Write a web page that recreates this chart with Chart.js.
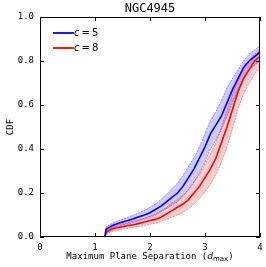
<!DOCTYPE html>
<html><head><meta charset="utf-8">
<script src="https://cdn.jsdelivr.net/npm/chart.js@4"></script>
<style>html,body{margin:0;padding:0;background:#fff}#wrap{width:266px;height:267px}</style>
</head><body><div id="wrap"><canvas id="c" width="266" height="267"></canvas></div>
<script>
const titleText = "NGC4945";
const xTickLabels = ["0","1","2","3","4"];
const yTickLabels = ["0.0","0.2","0.4","0.6","0.8","1.0"];
const seriesNames = ["c = 5","c = 8"];
const sep = [1.18,1.2,1.3,1.4,1.5,1.6,1.7,1.8,1.9,2.0,2.1,2.2,2.3,2.4,2.5,2.6,2.7,2.8,2.9,3.0,3.1,3.2,3.3,3.4,3.5,3.6,3.7,3.8,3.9,4.0];
const c5Median = [0,0.035,0.05,0.06,0.068,0.075,0.083,0.092,0.1,0.11,0.125,0.14,0.16,0.18,0.20,0.23,0.27,0.31,0.36,0.41,0.47,0.51,0.55,0.61,0.67,0.72,0.77,0.80,0.82,0.84];
const c5Upper  = [0,0.045,0.06,0.072,0.082,0.09,0.1,0.11,0.12,0.135,0.15,0.17,0.195,0.22,0.245,0.28,0.32,0.36,0.41,0.47,0.53,0.57,0.62,0.68,0.72,0.76,0.80,0.83,0.85,0.87];
const c5Lower  = [0,0.022,0.038,0.048,0.055,0.06,0.067,0.075,0.082,0.09,0.1,0.115,0.13,0.145,0.16,0.185,0.215,0.25,0.29,0.34,0.4,0.44,0.49,0.55,0.61,0.67,0.72,0.76,0.78,0.80];
const c8Median = [0,0.02,0.035,0.042,0.047,0.052,0.056,0.062,0.068,0.075,0.08,0.09,0.105,0.12,0.135,0.15,0.17,0.20,0.23,0.27,0.31,0.36,0.43,0.50,0.58,0.66,0.72,0.76,0.80,0.82];
const c8Upper  = [0,0.03,0.045,0.055,0.06,0.066,0.072,0.078,0.085,0.095,0.105,0.12,0.135,0.155,0.17,0.19,0.215,0.25,0.285,0.33,0.38,0.43,0.5,0.58,0.65,0.71,0.76,0.80,0.83,0.85];
const c8Lower  = [0,0.01,0.025,0.03,0.035,0.04,0.044,0.048,0.053,0.058,0.063,0.07,0.08,0.09,0.1,0.112,0.128,0.15,0.175,0.205,0.24,0.285,0.34,0.41,0.49,0.58,0.65,0.70,0.74,0.77];

const pts = arr => sep.map((x,i)=>({x:x,y:arr[i]}));
const BLUE='#0000ff', RED='#ff0000';
const MONO='"DejaVu Sans Mono", monospace';

const boxAndTicks = {
  id:'boxTicks',
  afterDatasetsDraw(chart){
    const ctx=chart.ctx, a=chart.chartArea, xs=chart.scales.x, ys=chart.scales.y;
    ctx.save();
    ctx.strokeStyle='#000'; ctx.lineWidth=1;
    ctx.strokeRect(Math.round(a.left)+0.5, Math.round(a.top)+0.5, Math.round(a.right-a.left)-1, Math.round(a.bottom-a.top)-1);
    const L=4;
    ctx.beginPath();
    xs.ticks.forEach(t=>{const p=Math.round(xs.getPixelForValue(t.value))+0.5;
      ctx.moveTo(p,a.bottom); ctx.lineTo(p,a.bottom-L); ctx.moveTo(p,a.top); ctx.lineTo(p,a.top+L);});
    ys.ticks.forEach(t=>{const p=Math.round(ys.getPixelForValue(t.value))+0.5;
      ctx.moveTo(a.left,p); ctx.lineTo(a.left+L,p); ctx.moveTo(a.right,p); ctx.lineTo(a.right-L,p);});
    ctx.stroke();
    ctx.fillStyle='#000'; ctx.textBaseline='middle'; ctx.textAlign='center';
    ctx.font='12px '+MONO;
    ctx.fillText(titleText,(a.left+a.right)/2,8.5);
    const items=[[seriesNames[0],BLUE],[seriesNames[1],RED]];
    items.forEach((it,i)=>{
      const y=a.top+16+i*15;
      ctx.strokeStyle=it[1]; ctx.lineWidth=1.8;
      ctx.beginPath(); ctx.moveTo(a.left+13,y); ctx.lineTo(a.left+34,y); ctx.stroke();
      ctx.fillStyle='#000'; ctx.textBaseline='middle'; ctx.textAlign='left';
      const parts=it[0].split(' ');
      ctx.font='italic 10px "DejaVu Sans"';
      let x=a.left+34; ctx.fillText(parts[0],x,y); x+=ctx.measureText(parts[0]).width+2;
      ctx.font='10px "DejaVu Sans"';
      ctx.fillText(parts[1],x,y); x+=ctx.measureText(parts[1]).width+2;
      ctx.fillText(parts[2],x,y);
    });
    ctx.fillStyle='#000'; ctx.textBaseline='middle'; ctx.textAlign='left';
    const p1='Maximum Plane Separation (', p2='d', p3='max', p4=')';
    ctx.font='9px '+MONO; const w1=ctx.measureText(p1).width, w4=ctx.measureText(p4).width;
    ctx.font='italic 9px "DejaVu Sans"'; const w2=ctx.measureText(p2).width;
    ctx.font='7px "DejaVu Sans"'; const w3=ctx.measureText(p3).width;
    const tot=w1+w2+w3+w4; let x=(a.left+a.right)/2-tot/2; const ty=257;
    ctx.font='9px '+MONO; ctx.fillText(p1,x,ty); x+=w1;
    ctx.font='italic 9px "DejaVu Sans"'; ctx.fillText(p2,x,ty); x+=w2;
    ctx.font='7px "DejaVu Sans"'; ctx.fillText(p3,x,ty+2); x+=w3;
    ctx.font='9px '+MONO; ctx.fillText(p4,x,ty);
    ctx.restore();
  }
};

new Chart(document.getElementById('c'),{
  type:'line',
  data:{datasets:[
    {label:'c5u',data:pts(c5Upper),borderColor:'rgba(0,0,255,0.55)',borderWidth:0.7,borderDash:[2,1],pointRadius:0,fill:'+1',backgroundColor:'rgba(0,0,255,0.2)',order:2},
    {label:'c5l',data:pts(c5Lower),borderColor:'rgba(0,0,255,0.55)',borderWidth:0.7,borderDash:[2,1],pointRadius:0,fill:false,order:2},
    {label:'c8u',data:pts(c8Upper),borderColor:'rgba(255,0,0,0.55)',borderWidth:0.7,borderDash:[2,1],pointRadius:0,fill:'+1',backgroundColor:'rgba(255,0,0,0.2)',order:3},
    {label:'c8l',data:pts(c8Lower),borderColor:'rgba(255,0,0,0.55)',borderWidth:0.7,borderDash:[2,1],pointRadius:0,fill:false,order:3},
    {label:seriesNames[0],data:pts(c5Median),borderColor:BLUE,borderWidth:1.6,pointRadius:0,fill:false,order:0},
    {label:seriesNames[1],data:pts(c8Median),borderColor:RED,borderWidth:1.6,pointRadius:0,fill:false,order:1}
  ]},
  options:{
    responsive:false, animation:false, devicePixelRatio:1,
    layout:{padding:{left:0,right:6,top:17,bottom:0}},
    plugins:{legend:{display:false}, tooltip:{enabled:false}, title:{display:false}},
    scales:{
      x:{type:'linear',min:0,max:4,
        afterFit(s){s.height=30; s.paddingRight=0;},
        grid:{display:false,drawTicks:false},border:{display:false},
        ticks:{stepSize:1,padding:5,color:'#000',font:{family:MONO,size:9},callback:(v,i)=>xTickLabels[i]}},
      y:{type:'linear',min:0,max:1,
        afterFit(s){s.width=40;},
        grid:{display:false,drawTicks:false},border:{display:false},
        title:{display:true,text:'CDF',color:'#000',font:{family:MONO,size:9},padding:{top:5,bottom:2}},
        ticks:{stepSize:0.2,padding:6,color:'#000',font:{family:MONO,size:9},callback:(v,i)=>yTickLabels[i]}}
    }
  },
  plugins:[boxAndTicks]
});
</script></body></html>
